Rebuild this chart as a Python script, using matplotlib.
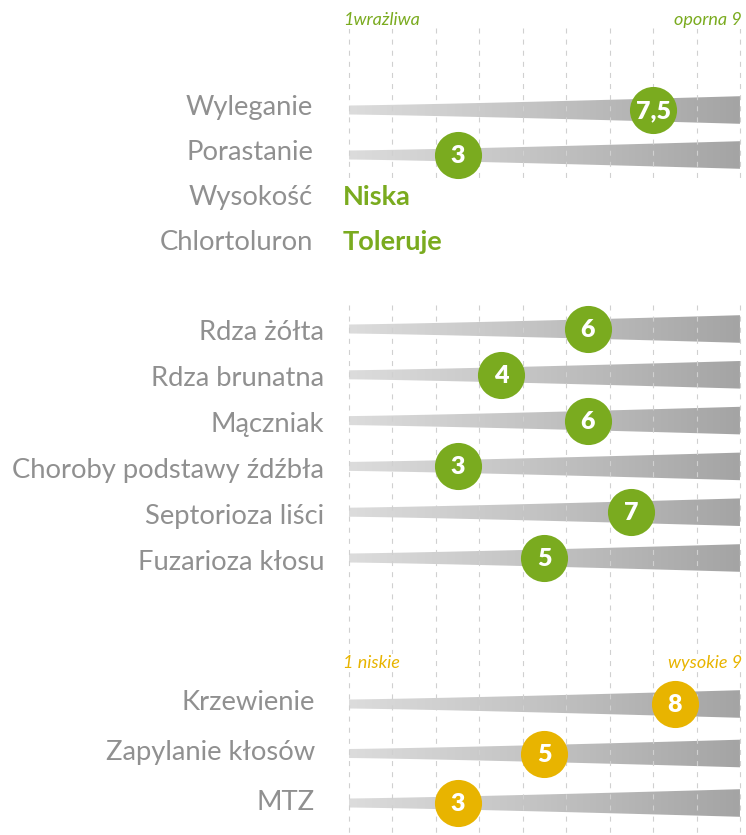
import numpy as np
import matplotlib
matplotlib.use("Agg")
import matplotlib.pyplot as plt
from matplotlib.patches import Polygon

plt.rcParams['font.family'] = ['Lato', 'DejaVu Sans']

# data
top_labels = ['Wyleganie', 'Porastanie']
top_values = [7.5, 3]
info_labels = ['Wysokość', 'Chlortoluron']
info_values = ['Niska', 'Toleruje']
disease_labels = ['Rdza żółta', 'Rdza brunatna', 'Mączniak',
                  'Choroby podstawy źdźbła', 'Septorioza liści', 'Fuzarioza kłosu']
disease_values = [6, 4, 6, 3, 7, 5]
growth_labels = ['Krzewienie', 'Zapylanie kłosów', 'MTZ']
growth_values = [8, 5, 3]
scale_green = ('1wrażliwa', 'oporna 9')
scale_yellow = ('1 niskie', 'wysokie 9')

GREEN = '#7aab1f'
YELLOW = '#e8b400'
LABEL = '#909090'
GRID = '#d0d0d0'

W, H = 746, 835
fig = plt.figure(figsize=(W / 100, H / 100), dpi=100)
ax = fig.add_axes([0, 0, 1, 1])

# x in score units (0.5 .. 9.5 spans the grid), y in pixels from the top
px = 43.44
x0 = 0.5 - 349 / px
x1 = 0.5 + (W - 349) / px
ax.set_xlim(x0, x1)
ax.set_ylim(H, 0)
ax.axis('off')

grad = np.linspace(0, 1, 256).reshape(1, -1)
cmap = matplotlib.colors.LinearSegmentedColormap.from_list('g', ['#dcdcdc', '#c2c2c2', '#a4a4a4'])


def bar(y):
    xs = np.linspace(0.5, 9.5, 50)
    h = 4.5 + 9.3 * ((xs - 0.5) / 9.0) ** 1.2
    pts = np.concatenate([np.column_stack([xs, y - h]), np.column_stack([xs[::-1], (y + h)[::-1]])])
    poly = Polygon(pts, closed=True, facecolor='none', edgecolor='none')
    ax.add_patch(poly)
    im = ax.imshow(grad, extent=(0.5, 9.5, y + 15, y - 15), cmap=cmap,
                   aspect='auto', zorder=1, interpolation='bilinear')
    im.set_clip_path(poly)


def dot(y, v, color):
    ax.scatter([v], [y], s=1150, color=color, zorder=4, linewidths=0)
    txt = ('%g' % v).replace('.', ',')
    ax.text(v, y + 1, txt, color='white', fontsize=18, fontweight='heavy',
            ha='center', va='center', zorder=5)


def label(y, text, right):
    ax.text(0.5 - (349 - right) / px, y, text, color=LABEL, fontsize=19.7,
            ha='right', va='center', zorder=5)


# grid
for g in np.arange(0.5, 9.6, 1.0):
    for ya, yb in [(28, 178), (305, 835)]:
        ax.plot([g, g], [ya, yb], color=GRID, lw=0.8, ls=(0, (4.5, 5.5)), zorder=2)

# header labels
def header(y, texts, color):
    ax.text(0.5 - 6 / px, y, texts[0], color=color, fontsize=13, style='italic',
            ha='left', va='center', zorder=5,
            bbox=dict(facecolor='white', edgecolor='none', pad=0.5))
    ax.text(9.5 + 2 / px, y, texts[1], color=color, fontsize=13, style='italic',
            ha='right', va='center', zorder=5,
            bbox=dict(facecolor='white', edgecolor='none', pad=0.5))

header(20, scale_green, GREEN)
header(663, scale_yellow, YELLOW)

# top section
y = 110
for name, v in zip(top_labels, top_values):
    bar(y)
    dot(y, v, GREEN)
    label(y - 3, name, 313)
    y += 45
y = 197
for name, v in zip(info_labels, info_values):
    label(y, name, 313)
    ax.text(0.5 - 6 / px, y, v, color=GREEN, fontsize=19.5, fontweight='bold',
            ha='left', va='center', zorder=5)
    y += 45

# diseases
y = 329
for name, v in zip(disease_labels, disease_values):
    bar(y)
    dot(y, v, GREEN)
    label(y + 4, name, 324)
    y += 45.8

# growth
y = 704
for name, v in zip(growth_labels, growth_values):
    bar(y)
    dot(y, v, YELLOW)
    label(y - 1, name, 315)
    y += 49.5

fig.savefig('out.png', dpi=100)
